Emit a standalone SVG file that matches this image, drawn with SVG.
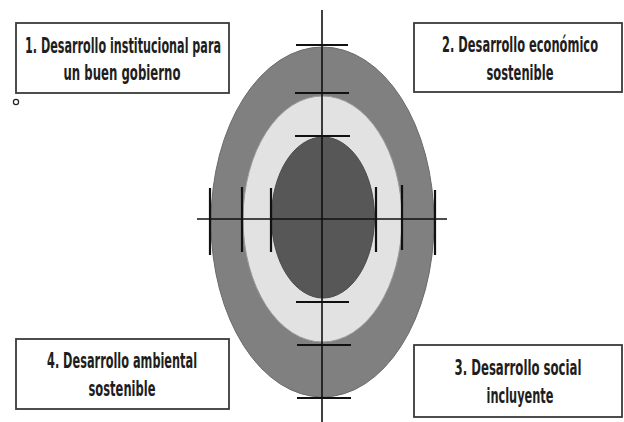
<svg xmlns="http://www.w3.org/2000/svg" width="624" height="422" viewBox="0 0 624 422">
<style>
.box{fill:#fff;stroke:#3a3a3a;stroke-width:1.8}
.lbl{font-family:"Liberation Sans Narrow","DejaVu Sans Condensed","Liberation Sans",sans-serif;font-weight:bold;font-size:14px;fill:#1e1e1e;text-anchor:middle}
.ax{stroke:#111;stroke-width:1.6}
.tk{stroke:#111;stroke-width:2.2}
</style>
<rect width="624" height="422" fill="#fff"/>
<g id="target">
<ellipse cx="322.5" cy="222" rx="111.5" ry="175" fill="#808080" stroke="#6a6a6a" stroke-width="1"/>
<ellipse cx="322.5" cy="219" rx="79.5" ry="123" fill="#e2e2e2" stroke="#9a9a9a" stroke-width="1"/>
<ellipse cx="323" cy="217.5" rx="51.5" ry="80.5" fill="#575757" stroke="#4a4a4a" stroke-width="1"/>
</g>
<g id="connectors">
<line class="ax" x1="322" y1="10" x2="322" y2="422"/>
<line class="ax" x1="197" y1="219" x2="447" y2="219"/>
<line class="tk" x1="296" y1="45" x2="348" y2="45"/>
<line class="tk" x1="295" y1="93" x2="349" y2="93"/>
<line class="tk" x1="295" y1="136" x2="350" y2="136"/>
<line class="tk" x1="296" y1="302" x2="349" y2="302"/>
<line class="tk" x1="297" y1="345" x2="351" y2="345"/>
<line class="tk" x1="297" y1="398" x2="351" y2="398"/>
<line class="tk" x1="210" y1="188" x2="210" y2="255"/>
<line class="tk" x1="242" y1="187" x2="242" y2="252"/>
<line class="tk" x1="271" y1="188" x2="271" y2="252"/>
<line class="tk" x1="376" y1="187" x2="376" y2="252"/>
<line class="tk" x1="402" y1="185" x2="402" y2="250"/>
<line class="tk" x1="435" y1="190" x2="435" y2="255"/>
</g>
<g id="node1">
<rect class="box" x="16" y="23" width="213" height="70"/>
<text class="lbl" transform="translate(123,53) scale(1,1.5)" textLength="196" lengthAdjust="spacingAndGlyphs">1. Desarrollo institucional para</text>
<text class="lbl" transform="translate(122,80) scale(1,1.5)" textLength="117" lengthAdjust="spacingAndGlyphs">un buen gobierno</text>
</g>
<circle id="handle" cx="16" cy="102" r="2.6" fill="#fff" stroke="#222" stroke-width="1.2"/>
<g id="node2">
<rect class="box" x="414" y="23" width="208" height="69"/>
<text class="lbl" transform="translate(520,52) scale(1,1.5)" textLength="156" lengthAdjust="spacingAndGlyphs">2. Desarrollo económico</text>
<text class="lbl" transform="translate(520,80) scale(1,1.5)" textLength="67" lengthAdjust="spacingAndGlyphs">sostenible</text>
</g>
<g id="node3">
<rect class="box" x="414" y="345" width="208" height="72"/>
<text class="lbl" transform="translate(518,375) scale(1,1.5)" textLength="127" lengthAdjust="spacingAndGlyphs">3. Desarrollo social</text>
<text class="lbl" transform="translate(520,403) scale(1,1.5)" textLength="67" lengthAdjust="spacingAndGlyphs">incluyente</text>
</g>
<g id="node4">
<rect class="box" x="16" y="339" width="213" height="70"/>
<text class="lbl" transform="translate(122,368) scale(1,1.5)" textLength="150" lengthAdjust="spacingAndGlyphs">4. Desarrollo ambiental</text>
<text class="lbl" transform="translate(122,396) scale(1,1.5)" textLength="67" lengthAdjust="spacingAndGlyphs">sostenible</text>
</g>
</svg>
